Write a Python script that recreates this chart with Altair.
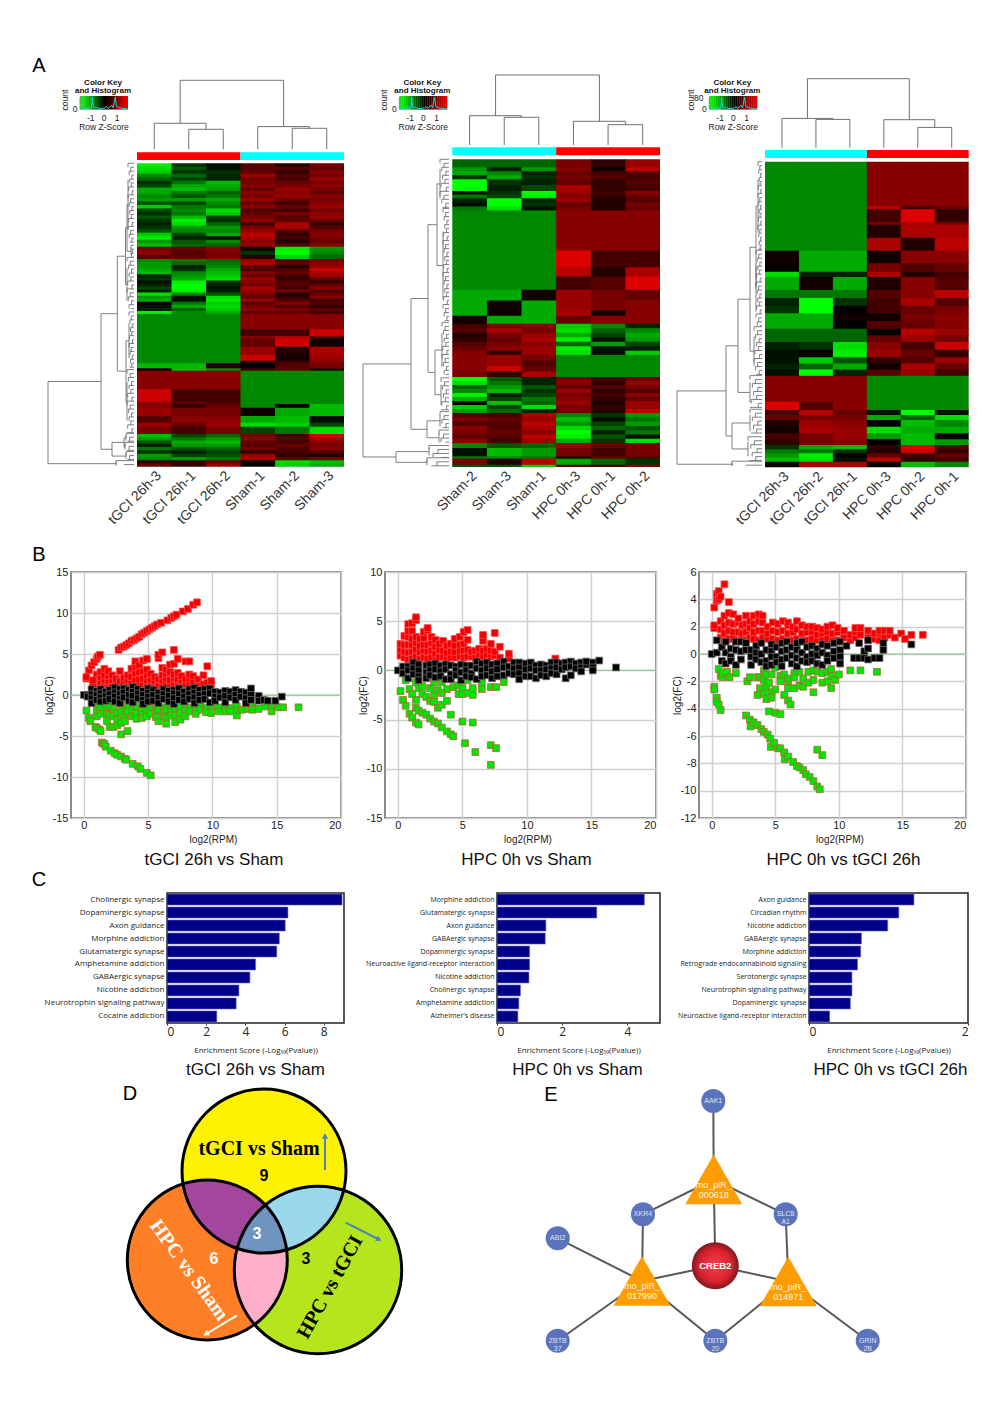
import numpy as np
import pandas as pd
import altair as alt

FONT = "Liberation Sans"

# ---------- A: heatmaps (z-score x10, blocks of equal-height rows) ----------
S = [-8, -8, -8, 8, 8, 8]
R = [8, 8, 8, -8, -8, -8]
heat1 = [
 (250, [[-14,-3,-1,5,2,7],[-13,-5,-1,5,5,6],[-12,-3,-3,6,3,8],[-8,-6,-2,9,5,7],[-6,-4,-2,7,4,9],[-3,-7,-11,7,6,7],
        [-4,-10,-10,8,7,8],[-10,-11,-9,6,9,7],[-10,-7,-6,8,8,6],[-8,-5,-7,7,9,8],[-9,-9,-10,9,6,7],[-5,-4,-8,6,4,8],
        [-12,-7,-7,8,6,9],[-4,-8,-13,5,4,7],[-3,-7,-12,6,7,8],[-5,-11,-4,7,5,9],[-3,-14,-3,8,6,6],[-2,-13,-6,4,10,3],
        [-3,-9,-9,7,10,5],[-5,-8,-8,9,5,7],[-12,-4,-10,11,3,8],[-14,-2,-1,10,4,7],[-9,-5,-8,8,2,6],[-11,-6,-6,9,5,8]]),
 (37, [[7,6,8,1,-14,-9],[8,5,7,-3,-15,-8],[5,6,7,2,-12,-6]]),
 (165, [[-8,-7,-6,9,5,7],[-9,-6,-7,10,6,8],[-9,-2,-8,6,2,9],[-10,-3,-10,4,5,12],[-11,-8,-11,8,6,10],[-2,-9,-12,6,4,9],
        [-3,-10,-13,9,3,6],[-1,-14,-3,8,5,3],[-2,-15,-2,7,5,6],[-4,-15,-1,10,4,8],[-2,-14,-2,9,7,5],[-13,-8,-5,7,2,6],
        [-9,-1,-13,6,3,8],[-10,-1,-14,9,5,4],[0,-7,-12,5,8,5],[-1,-10,-13,7,5,3],[-2,-6,-12,8,7,6],[-14,-8,-10,6,6,4]]),
 (46, [S]), (20, [[-8,-8,-8,4,4,12]]), (7, [[-8,-8,-8,8,10,6]]), (25, [[-8,-8,-8,6,12,1]]), (25, [[-8,-8,-8,9,2,10]]),
 (17, [[-8,-8,-8,12,1,9]]), (8, [[-8,-8,-8,3,4,8]]), (15, [[-11,-11,2,0,5,7]]), (7, [[1,-11,-8,4,6,2]]),
 (56, [R]), (37, [[12,4,4,-8,-8,-8]]), (7, [[8,6,5,-8,-8,-8]]), (11, [[8,3,6,-8,0,-11]]), (25, [[9,7,7,1,-10,-11]]),
 (20, [[5,8,8,-10,-11,-1]]), (12, [[9,6,9,-13,-12,-4]]), (22, [[7,4,7,-4,-7,-13]]),
 (98, [[-11,-4,-6,7,4,12],[-9,-7,-9,8,5,10],[-5,-10,-11,6,4,8],[-2,-9,-9,5,6,7],[-7,-5,-6,7,5,8],[-3,-2,-4,3,4,5],
       [-9,-4,-5,9,3,2],[-8,-9,-7,10,5,7],[3,3,6,1,-13,-11],[6,3,9,0,-12,-10]]),
]
heat2 = [
 (24, [[-6,-6,-6,7,3,9]]),
 (36, [[-9,-2,-9,8,1,11],[-10,-8,-2,6,4,5],[-3,-10,-3,7,5,4]]),
 (35, [[-15,-3,-2,6,3,5],[-15,-2,-4,10,3,4]]),
 (22, [[-1,-3,-15,9,4,8],[-7,-4,-14,8,3,6]]),
 (25, [[-2,-15,-2,9,2,5],[-1,-15,-3,6,2,7]]),
 (12, [[-7,-13,-1,7,2,6]]),
 (120, [S]), (50, [[-8,-8,-8,13,4,4]]), (28, [[-8,-8,-8,11,2,10]]), (40, [[-8,-8,-8,4,5,13]]),
 (32, [[-10,-10,1,9,7,6]]), (30, [[-10,1,-10,9,7,8]]), (16, [[-10,1,-10,10,1,8]]), (24, [[1,-10,-10,6,8,8]]),
 (94, [[4,7,8,-12,-8,-2],[5,10,7,-13,-6,-8],[2,7,9,-10,-4,-10],[3,6,10,-14,-1,-9],[5,7,8,-6,-9,-4],[6,8,9,-14,-1,-2],[8,3,9,-13,-1,-12]]),
 (66, [[8,9,7,-8,-8,-8],[8,9,5,-8,-8,-8],[8,12,6,-8,-8,-8],[7,3,10,-8,-8,-8]]),
 (108, [[-15,-5,-2,7,4,6],[-13,-7,-2,8,2,9],[-6,-9,-5,6,5,7],[-8,-11,-3,9,3,5],[-14,-2,-4,7,4,8],[-10,-4,-7,8,3,6],[0,-11,-6,9,2,9],[-12,-4,-13,7,3,9],[-9,-6,-2,6,2,11]]),
 (90, [[5,4,10,-8,-3,-9],[7,6,9,-11,-1,-7],[5,5,11,-9,-4,-9],[8,5,10,-13,-6,-5],[7,6,8,-15,-2,-7],[6,5,11,-14,-5,-1],[8,4,9,-10,-3,-13]]),
 (15, [[-8,-5,-6,9,6,7]]), (25, [[-1,-11,-9,7,4,7]]), (7, [[-7,-8,-7,2,6,5]]), (18, [[7,2,11,-10,-6,-3]]), (7, [[-5,-5,-12,6,4,8]]),
]
heat3 = [
 (133, [S]), (10, [[-8,-8,-8,11,4,6]]), (38, [[-8,-8,-8,4,13,3]]), (8, [[-8,-8,-8,7,10,7]]), (39, [[-8,-8,-8,2,10,10]]),
 (39, [[-8,-8,-8,10,2,11]]), (38, [[1,-10,-10,1,8,8]]), (25, [[0,-10,-10,7,5,6]]), (16, [[-13,-2,-2,10,2,4]]),
 (39, [[-10,1,-10,2,8,5]]), (24, [[-7,-7,-7,5,8,11]]), (46, [[-2,-15,-3,4,10,5],[-3,-15,0,4,6,7]]),
 (46, [[-10,-10,1,1,7,8],[-10,-10,0,5,6,8]]), (40, [[-6,-6,-6,0,11,9],[-6,-6,-6,6,9,7]]),
 (46, [[-2,-3,-13,8,4,12],[-1,0,-14,9,6,3]]), (55, [[-1,-12,-5,3,5,9],[-2,-6,-10,1,10,6],[-1,-15,-2,5,9,4]]),
 (78, [R]), (25, [[13,5,8,-8,-8,-8]]), (30, [[4,11,6,-1,-15,-1],[6,7,7,-10,-6,-13]]),
 (40, [[2,9,8,0,-11,-8],[1,10,9,-13,-10,-10]]), (35, [[4,7,9,-9,-11,0],[3,7,8,0,-11,-9]]),
 (50, [[-3,-10,-11,3,13,5],[-7,-7,-3,2,12,3],[-9,-14,0,6,4,6],[-11,-13,-1,11,3,4]]),
 (17, [[1,10,10,0,-11,-8]]),
]
labels1 = ["tGCI 26h-3", "tGCI 26h-1", "tGCI 26h-2", "Sham-1", "Sham-2", "Sham-3"]
labels2 = ["Sham-2", "Sham-3", "Sham-1", "HPC 0h-3", "HPC 0h-1", "HPC 0h-2"]
labels3 = ["tGCI 26h-3", "tGCI 26h-2", "tGCI 26h-1", "HPC 0h-3", "HPC 0h-2", "HPC 0h-1"]

top_tree1 = (69, (26, 0, (20, 1, 2)), (22.7, 3, (21, 4, 5)))
top_tree2 = (70, (29.3, 0, (27.7, 1, 2)), (23.7, 3, (20.3, 4, 5)))
top_tree3 = (69, (29.3, 0, (28.3, 1, 2)), (28, 3, (20.3, 4, 5)))

def F(r0, r1, d):
    return ("F", r0, r1, d)

left_tree1 = (86, (33, (16.7, (8.5, (7, F(0, 27, 6), F(27, 31, 3)), F(31, 49, 7)), (8, F(49, 68, 5), F(68, 89, 7))),
                   (22, (10, F(89, 92, 8), F(92, 95, 9)), F(95, 98, 8))), F(98, 100, 18))
left_tree2 = (86, (38, (21, (12, F(0, 16, 9), F(16, 53, 6)), (14, F(53, 71, 7), F(71, 82, 8))),
                   (22, F(82, 88, 9), F(88, 93, 10))), (53, F(93, 97, 20), F(97, 100, 22)))
left_tree3 = (85, (36, (24, (12, (6, F(0, 29, 4), F(29, 54, 6)), F(54, 70, 8)), F(70, 81, 12)),
                   (30, F(81, 90, 12), F(90, 98, 14))), F(98, 100, 30))

hist_z = [-1.8, -1.3, -1.2, -1.1, -0.95, -0.88, -0.8, -0.6, -0.4, -0.1, 0.1, 0.2, 0.3, 0.6, 0.7, 0.85, 0.95, 1.2, 1.6, 1.8]
hist_c = [0, 0, 0.2, 0.05, 0.1, 1, 0.1, 0.15, 0.05, 0.05, 0.1, 0.2, 0.05, 0.3, 0.1, 1, 0.2, 0.1, 0.03, 0]

# ---------- B: scatter columns (x, [y...]) ----------
b1_red = [(2.7,[5.5]),(2.9,[5.8]),(3.1,[5.9]),(3.3,[6.1]),(3.5,[6.3]),(3.7,[6.6]),(3.9,[6.7]),(4.1,[6.9]),(4.3,[7.1]),(4.5,[7.4]),
 (4.7,[7.6]),(4.9,[7.8]),(5.1,[8.0]),(5.3,[8.2]),(5.5,[8.4]),(5.7,[8.6]),(6,[8.8]),(6.5,[9.1]),(6.8,[9.4]),(7,[9.6]),(7.2,[9.8]),
 (7.7,[10.2]),(8.1,[10.5]),(8.5,[11]),(8.8,[11.3]),(0.2,[2.0,2.2]),(0.4,[3.0]),(0.6,[3.6]),(0.8,[4.0]),(1,[1.3,2,2.5,4.4]),(1.1,[4.7]),(1.25,[4.9]),
 (0.7,[1.2,1.8]),(1.3,[1.1,1.6,2.2,2.8]),(1.6,[1.2,1.8,2.4,3.2]),(1.9,[1.1,1.7,2.3,2.9]),(2.2,[1.2,1.8,2.4]),(2.5,[1.1,1.5,2.0]),
 (2.8,[1.2,1.7,2.9]),(3.1,[1.2,1.6,2.1]),(3.4,[1.1,1.8,2.4]),(3.7,[1.2,1.7,2.2,3.2]),(4,[1.2,1.8,2.6,3.4,4.1]),(4.3,[1.2,1.9,2.8,3.6]),
 (4.6,[1.3,2,2.9,4.2]),(4.9,[1.1,1.8,2.4,3.1,4.4]),(5.2,[1.2,1.9,2.6]),(5.5,[1.2,1.7,2.2]),(5.8,[1.1,1.9,4.5,4.9]),(6.1,[1.2,1.8,2.4,3.3,5.2]),
 (6.4,[1.3,2,2.6,3.1]),(6.7,[1.2,1.8,2.8,3.7]),(7,[1.2,2,2.5,3.8,5.5]),(7.3,[1.3,1.9,2.7,4.4]),(7.6,[1.2,1.8,2.3]),(7.9,[1.3,1.9,4.1]),
 (8.2,[1.4,2,2.5,4.1]),(8.5,[1.5,2.3]),(8.9,[1.4,1.9]),(9.3,[1.3,2.4]),(9.6,[1.5,3.5]),(9.9,[1.3,1.7])]
b1_green = [(0.2,[-1.9]),(0.4,[-2.8]),(0.5,[-3.2]),(0.9,[-3.9]),(1,[-1.1,-2.0,-2.6,-4]),(1.2,[-4.2]),(1.3,[-1.5,-2.3,-4.4]),
 (1.4,[-5.8]),(1.5,[-5.9]),(1.6,[-1.9,-6]),(1.7,[-6.3]),(2.1,[-6.8]),(2.4,[-7.1]),(2.6,[-7.3]),(2.9,[-7.5]),(3.2,[-7.8]),(3.3,[-7.9]),(3.8,[-8.4]),
 (4.2,[-8.7]),(4.4,[-9]),(4.9,[-9.5]),(5.2,[-9.8]),
 (1.8,[-1.5,-2.3,-3.2]),(2,[-1.3,-2.4,-3.9]),(2.3,[-1.7,-2.6,-3.9]),(2.6,[-2.2,-3.0,-3.7]),(2.9,[-1.1,-2,-3.4,-4.8]),(3.2,[-1.6,-2.5,-3.2]),
 (3.4,[-1.3,-2.0,-4.4]),(3.8,[-1.8,-2.6]),(4.1,[-1.3,-2.2,-2.9]),(4.5,[-1.6,-2.4,-2.8]),(4.9,[-1.2,-2,-2.6]),(5.2,[-1.7,-2.3]),(5.6,[-1.5,-2.1,-2.7]),
 (5.8,[-1.7,-3.2]),(6.2,[-1.5,-2.2,-2.6]),(6.4,[-1.8,-2.8,-3.5]),(6.8,[-1.4,-2,-2.5]),(7.1,[-1.7,-2.5,-3.3]),(7.5,[-1.5,-2.2,-3.0]),(7.9,[-1.3,-1.9,-2.6]),
 (8.3,[-1.6,-2.0]),(8.7,[-1.3,-1.9,-2.3]),(9.1,[-1.2,-1.8]),(9.5,[-1.6,-2.1]),(9.9,[-1.3,-2.2]),(10.5,[-1.5,-2]),(11,[-1.7,-2.0]),(11.4,[-1.6,-2.0]),
 (11.9,[-1.4,-1.9,-2.5]),(12.3,[-1.8]),(12.7,[-1.7]),(13.1,[-1.5,-1.8]),(13.6,[-1.7]),(14.1,[-1.4]),(14.6,[-1.4,-2.0]),(15.1,[-1.5]),(15.5,[-1.5]),(16.7,[-1.5])]
b1_black = [(0,[0]),(0.3,[0,-0.2]),(0.6,[0.7,0.1,-0.4,-1.0]),(1,[0.5,0,-0.6]),(1.3,[0.7,0.2,-0.3,-0.8]),(1.7,[0.4,-0.1,-0.7]),(2,[0.6,0.1,-0.5]),
 (2.4,[0.9,0.3,-0.2,-0.8]),(2.8,[0.7,0.1,-0.5,-1.0]),(3.1,[0.8,0.3,-0.3]),(3.5,[0.6,0,-0.7]),(3.8,[1.0,0.4,-0.1,-0.9]),(4.2,[0.7,0.2,-0.4]),
 (4.6,[0.5,0,-0.6,-1.1]),(5,[0.8,0.3,-0.2,-0.8]),(5.4,[0.6,0,-0.7]),(5.8,[0.3,-0.3,-1.0]),(6.2,[0.7,0.1,-0.5]),(6.6,[0.5,-0.1,-0.8]),(7,[0.6,0.2,-0.4,-1.1]),
 (7.4,[0.8,0.1,-0.6]),(7.8,[0.4,-0.2,-0.8]),(8.2,[0.7,0.1,-0.5]),(8.6,[0.9,0.3,-0.3,-1.0]),(9,[0.6,0,-0.6]),(9.4,[0.7,0.1,-0.5]),(9.8,[0.8,0.2,-0.9]),
 (10.2,[0.4,-0.2,-0.7]),(10.6,[0.3,-0.3]),(11,[0.5,-0.1,-0.9]),(11.4,[0.4,-0.3]),(11.8,[0.6,0,-0.6]),(12.2,[0.4,-0.2]),(12.6,[0.3,-0.4,-1.0]),(13,[0.8,0,-0.6]),
 (13.6,[-0.1,-0.7]),(14,[-0.6]),(14.3,[-0.7]),(14.9,[-0.7]),(15.4,[-0.2])]

b2_red = [(0.2,[1.5,2.1,2.7]),(0.5,[1.3,1.9,2.6,3.5]),(0.8,[1.1,1.8,2.6,3.4,4.0,4.7]),(1.1,[1.2,1.9,2.6,3.2,4.0,4.8]),(1.4,[1.4,2.1,2.8,3.4,5.1,5.4]),
 (1.7,[1.2,1.9,2.5,3.2]),(2,[1.3,2,2.6,3.3,3.9]),(2.3,[1.2,1.9,2.6,4.1,4.3]),(2.6,[1.3,2,2.8,3.4]),(2.9,[1.2,1.7,2.4,3.1]),(3.2,[1.3,2.1,2.7]),(3.5,[1.4,2,3]),
 (3.8,[1.2,1.8,2.5]),(4.1,[1.3,1.9,2.7]),(4.4,[1.3,1.9,2.5,3.2]),(4.8,[1.4,2,2.6,3.4]),(5.1,[1.3,2,2.7,3.9]),(5.4,[1.4,2.1,3.1,4.1]),(5.7,[1.4,1.9]),(6,[1.3,2]),
 (6.3,[1.6,2.2]),(6.6,[1.4,2.0,3.0,3.6]),(6.9,[1.6,2.2]),(7.2,[1.4,2.0,2.7]),(7.5,[1.5,1.9,3.8]),(7.9,[1.3,2.4]),(8.6,[1.2,1.7]),(12.2,[1.2])]
b2_green = [(0.2,[-2.1]),(0.4,[-3]),(0.6,[-1,-3.6]),(0.9,[-1.9,-4.4]),(1.1,[-2.4,-4.8]),(1.4,[-1.2,-3,-3.8,-5.3]),(1.6,[-1.8,-4.1,-5.5]),(1.9,[-1.6,-2.4,-4.3]),
 (2.2,[-2.7,-4.5]),(2.5,[-1.8,-3.1,-4.9]),(2.8,[-1.2,-2.5,-3.2,-5.2]),(3.1,[-2,-3.8,-5.4]),(3.4,[-1.2,-2.3,-3.5,-5.8]),(3.8,[-1.9,-3.1,-6.2]),(4.1,[-4.5,-6.5]),
 (4.3,[-1.7,-6.7]),(4.7,[-2.4,-1.5]),(5,[-2.4,-1.8,-5.2]),(5.2,[-7.4]),(5.4,[-1.0,-2.3]),(5.8,[-1.8,-2.5,-5.3]),(6,[-8.3]),(6.5,[-1.3,-1.9]),(7.2,[-1.7,-7.6,-9.6]),
 (7.6,[-1.7,-7.9]),(8.2,[-1.2])]
b2_black = [(0,[0]),(0.4,[0.4,-0.3]),(0.8,[0.4,0,-0.8]),(1.2,[0.8,0.2,-0.4]),(1.6,[0.6,0,-0.6,-1.0]),(2.2,[0.5,-0.2,-0.8]),(2.5,[0.6,0,-0.5]),(2.9,[0.7,0.1,-0.7]),
 (3.3,[0.5,-0.1,-0.6]),(3.7,[0.6,0.1,-0.9]),(4.1,[0.5,-0.4,-0.9]),(4.5,[0.4,0,-0.5]),(4.9,[0.6,-0.2,-1.0]),(5.3,[0.5,0,-0.6]),(5.7,[0.5,-0.3,-0.7]),(6.1,[0.9,0.2,-0.9]),
 (6.5,[0.7,0,-0.6]),(6.9,[0.8,0.2,-0.5]),(7.3,[0.6,-0.1,-0.8]),(7.7,[0.7,0.1,-0.6]),(8.2,[0.9,0.3,-0.5]),(8.6,[0.4,-0.3]),(9,[0.8,0.2,-0.4]),(9.4,[0.8,0.3,-0.3,-0.9]),
 (9.9,[0.7,0.1,-0.6]),(10.3,[0.8,0.2,-0.6]),(10.7,[0.5,0,-0.8]),(11.1,[0.6,0,-0.5]),(11.5,[0.5,0.1,-0.6]),(11.9,[0.8,0.2,-0.3]),(12.3,[0.8,0.3,-0.4]),(12.7,[0.7,0.1]),
 (13,[0.8,0.3,-0.8]),(13.4,[0.9,0.4,-0.5]),(13.8,[0.7,0.2]),(14.2,[0.8,0.3,-0.1]),(14.6,[0.6,0.9]),(15.1,[0.8,0.3,0]),(15.6,[1]),(16.9,[0.3])]

b3_red = [(0.2,[1.9,2.1,3.4]),(0.4,[3.9,4.4]),(0.55,[4.0,4.6]),(0.7,[1.2,1.8,2.4,4.2]),(1,[1.0,1.5,2.1,2.8,5.1]),(1.35,[1.1,1.7,2.3,3.0,3.8]),(1.7,[1.1,1.6,2.2,2.9]),
 (2.1,[1,1.6,2.3,2.6]),(2.4,[1.1,1.5,2.1]),(2.7,[1,1.6,2.2,2.8]),(3,[1.2,1.9,2.4]),(3.3,[1.1,1.6,2.2,2.8]),(3.7,[1,1.7,2.4,2.9]),(4,[1.2,1.7,2.3,2.8]),(4.4,[1.1,1.5,2.0]),
 (4.8,[1.1,1.7,2.3]),(5.2,[1,1.6,2.2]),(5.6,[1.1,1.7,2.4]),(6,[1,1.5,2.1,2.3]),(6.4,[1,1.6,2.0]),(6.7,[1.1,1.8,2.4]),(7.1,[1,1.5,2.1]),(7.5,[1,1.6,2.0]),(7.9,[1.1,1.6,2.0]),
 (8.3,[1,1.4,1.9]),(8.7,[1,1.5,1.8]),(9.1,[1.1,1.6,2.0]),(9.5,[1,1.5,2.1]),(9.9,[1,1.6,1.9]),(10.4,[1.2,1.7]),(10.9,[1,1.4]),(11.3,[1.2,1.6,1.9]),(11.7,[1.4,1.9]),(12.3,[1.2,1.7]),
 (12.8,[1.1,1.5]),(13.2,[1,1.5,1.7]),(13.6,[1.2,1.7]),(14,[1.4,1.7]),(14.4,[1.2]),(14.9,[1.5]),(15.2,[1.1]),(15.7,[1.4]),(16.6,[1.4])]
b3_green = [(0.2,[-2.4,-2.6]),(0.4,[-3.2,-3.5]),(0.55,[-1.1,-3.7]),(0.7,[-1.6,-4.1]),(0.85,[-1.7,-1.4]),(1.2,[-1.3]),(1.4,[-1.7]),(1.9,[-1.4]),(2.8,[-2]),(3,[-1.7]),
 (3.6,[-3,-1.7]),(3.8,[-2.5,-1.7]),(4.1,[-2.9,-1.9,-1.2]),(4.3,[-2.4,-3.3,-1.5]),(4.5,[-2.1,-4.2]),(4.7,[-1.5,-2.8,-3.2]),(5,[-1.0,-2.6,-4.3]),(5.4,[-1.6,-2,-4.4]),
 (5.7,[-1.5,-3]),(6,[-2,-1.8,-2.5,-3.4]),(6.2,[-3.7]),(6.5,[-1.4,-2.5,-1.7]),(6.9,[-1.3,-2.3]),(7.2,[-1.8,-2.4]),(7.6,[-1.3,-2.1]),(8,[-1.2,-2.8,-1.9]),(8.3,[-1.3]),
 (8.7,[-1.4,-2.1]),(9.1,[-1.3,-2.0]),(9.4,[-1.1,-1.6,-2.5]),(9.7,[-1.9]),(10,[-1.5]),(10.9,[-1.2]),(11.7,[-1.2]),(13,[-1.3]),
 (2.7,[-4.5]),(3,[-4.8]),(3.05,[-5.3]),(3.3,[-5]),(3.6,[-5.2]),(3.9,[-5.5]),(4.1,[-5.7]),(4.4,[-5.9]),(4.6,[-6.2]),(4.65,[-6.8]),(4.9,[-6.5]),(5.2,[-6.9]),(5.4,[-6.9]),
 (5.7,[-7.2]),(5.75,[-7.7]),(6,[-7.5]),(6.4,[-7.9]),(6.7,[-8.2]),(6.9,[-8.3]),(7.2,[-8.5]),(7.4,[-8.8]),(7.7,[-9]),(8,[-9.3]),(8.3,[-9.7,-7]),(8.5,[-9.9]),(8.7,[-7.4])]
b3_black = [(0,[0]),(0.4,[1,0.1]),(0.8,[0.5,-0.5]),(1.1,[0.9,0.1,-0.7]),(1.5,[0.4,-0.2,-0.5]),(1.9,[0.9,0.3,-0.8]),(2.3,[0.9,0.2,-0.4]),(2.7,[0.8,0.3]),(3.1,[0.3,-0.2,-0.8]),
 (3.5,[0.6,0.1,-0.4]),(3.9,[0.8,0,-0.6]),(4.3,[0.3,-0.5,-0.9]),(4.7,[0.7,0.2,-0.2,-0.8]),(5.1,[0.5,-0.2,-0.6]),(5.5,[0.8,0.2,-0.4,-0.9]),(5.9,[0.9,0.3,-0.3]),(6.3,[0.5,-0.1,-0.7]),
 (6.7,[0.8,0.3,-0.3,-0.9]),(7.1,[0.9,0.1,-0.5]),(7.5,[0.5,-0.2,-0.6]),(7.9,[0.6,0,-0.5]),(8.3,[0.4,-0.1,-0.7]),(8.7,[0.7,0.1,-0.8]),(9.1,[0.6,-0.1,-0.5]),(9.6,[0.8,0.2,-0.3]),
 (10.1,[0.9,0.3,-0.2,-0.7]),(10.6,[0.6]),(11.2,[-0.3]),(11.6,[0.8,-0.3]),(12,[0.2,-0.3]),(12.3,[1,0.4,-0.4]),(12.8,[-0.3]),(13.2,[-0.3]),(13.5,[0.8,0.3]),(15.7,[0.7])]

# ---------- C: enrichment bars ----------
c1_names = ["Cholinergic synapse","Dopaminergic synapse","Axon guidance","Morphine addiction","Glutamatergic synapse","Amphetamine addiction","GABAergic synapse","Nicotine addiction","Neurotrophin signaling pathway","Cocaine addiction"]
c1_vals = [8.93,6.17,6.03,5.73,5.6,4.52,4.23,3.67,3.53,2.54]
c2_names = ["Morphine addiction","Glutamatergic synapse","Axon guidance","GABAergic synapse","Dopaminergic synapse","Neuroactive ligand-receptor interaction","Nicotine addiction","Cholinergic synapse","Amphetamine addiction","Alzheimer's disease"]
c2_vals = [4.52,3.06,1.5,1.48,1.0,1.0,0.98,0.72,0.67,0.64]
c3_names = ["Axon guidance","Circadian rhythm","Nicotine addiction","GABAergic synapse","Morphine addiction","Retrograde endocannabinoid signaling","Serotonergic synapse","Neurotrophin signaling pathway","Dopaminergic synapse","Neuroactive ligand-receptor interaction"]
c3_vals = [1.32,1.13,0.99,0.66,0.65,0.61,0.54,0.54,0.52,0.26]

# ---------- D: Venn ----------
venn_c = {"Y": (264, 1171, 82), "O": (207.3, 1260, 80), "G": (318, 1270, 83.7)}
venn_fill = {"Y": "#fff200", "O": "#ff7f27", "G": "#b5e61d"}

# ---------- E: network ----------
genes = {"AAK1": (713.3,1101), "XKR4": (643,1214.3), "SLC8\nA1": (785.7,1214.3), "ABI2": (557.7,1238.3),
         "ZBTB\n37": (557.7,1340.7), "ZBTB\n20": (715.3,1340.7), "GRIN\n2B": (867.7,1340.7)}
pirs = {"mo_piR_\n000618": (713.7,1179.5), "mo_piR_\n017990": (642,1281), "mo_piR_\n014971": (788.3,1281.5)}
hub = {"CREB2": (715.3,1265.7)}
edges = [("AAK1","mo_piR_\n000618"),("XKR4","mo_piR_\n000618"),("SLC8\nA1","mo_piR_\n000618"),("CREB2","mo_piR_\n000618"),
         ("XKR4","mo_piR_\n017990"),("ABI2","mo_piR_\n017990"),("CREB2","mo_piR_\n017990"),("ZBTB\n37","mo_piR_\n017990"),("ZBTB\n20","mo_piR_\n017990"),
         ("SLC8\nA1","mo_piR_\n014971"),("CREB2","mo_piR_\n014971"),("ZBTB\n20","mo_piR_\n014971"),("GRIN\n2B","mo_piR_\n014971")]

# ---------- helpers ----------
ROW_A_TOP, ROW_A_BOT = 8, 563
FAN = [1.0, 0.55, 0.8, 0.35, 0.7, 0.45, 0.9, 0.3]

def walk(node, segs):
    if isinstance(node, int):
        return node + 0.5, 0.0
    if node[0] == "F":
        _, r0, r1, d = node
        rows = np.arange(r0, r1 + 0.01, 1.3)
        segs.append((d, r0 + (r1 - r0) * 0.2, d, r0 + (r1 - r0) * 0.8))
        for i, r in enumerate(rows):
            h = d * FAN[i % len(FAN)]
            segs.append((h, r, 0, r))
            if i + 1 < len(rows):
                segs.append((h, r, h, rows[i + 1]))
        return (r0 + r1) / 2, d
    h, a, b = node
    pa, ha = walk(a, segs)
    pb, hb = walk(b, segs)
    segs.append((h, pa, h, pb))
    segs.append((h, pa, ha, pa))
    segs.append((h, pb, hb, pb))
    return (pa + pb) / 2, h

def heat_panel(px0, px1, hx0, hx1, hy0, hy1, bar0, bar1, top_leaf, left_leaf, blocks, top_tree, left_tree,
               labels, bar_colors, key_zero, count_x, has80):
    ux = lambda p: (p - hx0) / (hx1 - hx0) * 6
    uy = lambda p: (p - hy0) / (hy1 - hy0) * 100
    xs = alt.Scale(domain=[ux(px0), ux(px1)], nice=False, zero=False)
    ys = alt.Scale(domain=[uy(ROW_A_BOT), uy(ROW_A_TOP)], nice=False, zero=False)
    X = lambda f: alt.X(f"{f}:Q", scale=xs, axis=None)
    Y = lambda f: alt.Y(f"{f}:Q", scale=ys, axis=None)
    col = alt.Color("z:Q", scale=alt.Scale(domain=[-15, 0, 15], range=["#00ff00", "#000000", "#ff0000"], clamp=True, interpolate="rgb"), legend=None)
    total = sum(b[0] for b in blocks)
    cells, y = [], 0.0
    for h, rows in blocks:
        rh = h / total * 100 / len(rows)
        for r in rows:
            for c, z in enumerate(r):
                # a sliver of overlap hides anti-aliasing seams between cells
                cells.append(dict(x=c, x2=min(c + 1.02, 6), y=y, y2=min(y + rh + 0.25, 100), z=z))
            y += rh
    layers = [alt.Chart(pd.DataFrame(cells)).mark_rect(strokeWidth=0).encode(x=X("x"), x2="x2:Q", y=Y("y"), y2="y2:Q", color=col)]
    bars = pd.DataFrame([dict(x=0, x2=3, y=uy(bar0), y2=uy(bar1), c=bar_colors[0]), dict(x=3, x2=6, y=uy(bar0), y2=uy(bar1), c=bar_colors[1])])
    layers.append(alt.Chart(bars).mark_rect().encode(x=X("x"), x2="x2:Q", y=Y("y"), y2="y2:Q", color=alt.Color("c:N", scale=None)))
    segs = []
    walk(top_tree, segs)
    top = pd.DataFrame([dict(x=a2, x2=b2, y=uy(top_leaf - a1), y2=uy(top_leaf - b1)) for a1, a2, b1, b2 in segs])
    layers.append(alt.Chart(top).mark_rule(color="#707070", strokeWidth=1).encode(x=X("x"), x2="x2:Q", y=Y("y"), y2="y2:Q"))
    segs = []
    walk(left_tree, segs)
    left = pd.DataFrame([dict(x=ux(left_leaf - a1), x2=ux(left_leaf - b1), y=a2, y2=b2) for a1, a2, b1, b2 in segs])
    layers.append(alt.Chart(left).mark_rule(color="#707070", strokeWidth=0.9).encode(x=X("x"), x2="x2:Q", y=Y("y"), y2="y2:Q"))
    kz = np.arange(-18, 18, 1.5)
    ku = 13.2
    key = pd.DataFrame([dict(x=ux(key_zero + z / 10 * ku), x2=ux(key_zero + (z + 1.7) / 10 * ku), y=uy(96), y2=uy(109.5), z=z * 0.85) for z in kz])
    layers.append(alt.Chart(key).mark_rect(strokeWidth=0).encode(x=X("x"), x2="x2:Q", y=Y("y"), y2="y2:Q", color=col))
    hist = pd.DataFrame(dict(x=[ux(key_zero + z * ku) for z in hist_z], y=[uy(109 - c * 12) for c in hist_c]))
    layers.append(alt.Chart(hist).mark_line(color="#19d6d6", strokeWidth=1).encode(x=X("x"), y=Y("y")))
    # count axis of the key's histogram
    kx = key_zero - 24
    ka = [dict(x=ux(kx), x2=ux(kx), y=uy(97), y2=uy(109))] + [dict(x=ux(kx), x2=ux(kx + 2.5), y=uy(t), y2=uy(t)) for t in (97, 100, 103, 106, 109)]
    layers.append(alt.Chart(pd.DataFrame(ka)).mark_rule(color="#777777", strokeWidth=0.8).encode(x=X("x"), x2="x2:Q", y=Y("y"), y2="y2:Q"))

    def txt(rows, **kw):
        d = pd.DataFrame([dict(x=ux(a), y=uy(b), t=t) for a, b, t in rows])
        return alt.Chart(d).mark_text(font=FONT, **kw).encode(x=X("x"), y=Y("y"), text="t:N")
    layers.append(txt([(key_zero - 1, 83, "Color Key"), (key_zero - 1, 91, "and Histogram")], fontSize=8, fontWeight="bold", color="#111"))
    layers.append(txt([(key_zero, 127, "Row Z-Score")], fontSize=8.5, color="#222"))
    layers.append(txt([(key_zero - ku, 117.5, "-1"), (key_zero, 117.5, "0"), (key_zero + ku, 117.5, "1")], fontSize=8.5, color="#222"))
    layers.append(txt([(count_x, 100, "count")], fontSize=8.5, angle=270, color="#222"))
    ticks = [(key_zero - 29, 109, "0")] + ([(key_zero - 34.5, 98, "80")] if has80 else [])
    layers.append(txt(ticks, fontSize=8.5, color="#222"))
    lab = pd.DataFrame([dict(x=i + 0.5 + ux(hx0 + 5), y=uy(hy1 + 7), t=t) for i, t in enumerate(labels)])
    layers.append(alt.Chart(lab).mark_text(font=FONT, fontSize=14, angle=315, align="right", baseline="middle", color="#333").encode(x=X("x"), y=Y("y"), text="t:N"))
    return alt.layer(*layers).properties(width=px1 - px0, height=ROW_A_BOT - ROW_A_TOP)

def expand(cols):
    return pd.DataFrame([dict(x=x, y=y) for x, ys in cols for y in ys])

def scatter(red, green, black, ydom, yvals, w, title, dx):
    xs = alt.Scale(domain=[-1, 20], nice=False, zero=False)
    ys = alt.Scale(domain=ydom, nice=False, zero=False)
    ax = alt.Axis(values=[0, 5, 10, 15, 20], labelExpr="datum.value + ''", title="log2(RPM)", grid=True, gridColor="#cfcfcf", gridWidth=1.5, domain=False,
                  ticks=False, labelFont=FONT, labelFontSize=11, labelColor="#222", titleFont=FONT, titleFontSize=10, titleFontWeight="normal",
                  titleColor="#222", labelPadding=1, titlePadding=4, titleX=w / 2 + 7)
    ay = alt.Axis(values=yvals, labelExpr="datum.value + ''", title="log2(FC)", grid=True, gridColor="#cfcfcf", gridWidth=1.5, domain=False,
                  ticks=False, labelFont=FONT, labelFontSize=11, labelColor="#222", titleFont=FONT, titleFontSize=10, titleFontWeight="normal",
                  titleColor="#222", labelPadding=3, titlePadding=-2)
    def pts(cols, fill, stroke):
        return alt.Chart(expand(cols)).mark_square(size=46, color=fill, stroke=stroke, strokeWidth=0.8, opacity=1).encode(
            x=alt.X("x:Q", scale=xs, axis=ax), y=alt.Y("y:Q", scale=ys, axis=ay))
    zero = alt.Chart(pd.DataFrame({"y": [0]})).mark_rule(color="#7fc97f", strokeWidth=1).encode(y=alt.Y("y:Q", scale=ys, axis=ay))
    return alt.layer(zero, pts(red, "#f00000", "#ff4a4a"), pts(green, "#00e600", "#a86a30"), pts(black, "#000000", "#6a6a6a")).properties(
        width=w, height=246, view=alt.ViewConfig(stroke="#666666", strokeWidth=1.5),
        title=alt.TitleParams(title, orient="bottom", font=FONT, fontSize=17, fontWeight="normal", color="#111", offset=8, dx=dx))

def bars(names, vals, dom, ticks, w, title, dx=0, label_size=8):
    d = pd.DataFrame(dict(n=names, v=vals))
    return alt.Chart(d).mark_bar(size=11, color="#00008b", stroke="#6a6ab8", strokeWidth=0.6).encode(
        y=alt.Y("n:N", sort=names, scale=alt.Scale(paddingInner=0.15, paddingOuter=0.08),
                axis=alt.Axis(title=None, ticks=False, domain=False, labelFont="Open Sans", labelFontSize=label_size, labelColor="#222", labelLimit=200, labelPadding=3)),
        x=alt.X("v:Q", scale=alt.Scale(domain=dom, nice=False, zero=False),
                axis=alt.Axis(values=ticks, format="d", grid=False, domain=False, tickSize=2, tickColor="#333",
                              labelFont="Open Sans", labelFontSize=12, labelColor="#222", labelPadding=1,
                              title="Enrichment Score (-Log\u2081\u2080(Pvalue))", titleFont="Open Sans", titleFontSize=8,
                              titleFontWeight="normal", titleColor="#222", titlePadding=9))
    ).properties(width=w, height=130, view=alt.ViewConfig(stroke="#222222", strokeWidth=1.5),
                 title=alt.TitleParams(title, orient="bottom", font=FONT, fontSize=17, fontWeight="normal", color="#111", offset=8, dx=dx))

def spacer(w, h, letters=()):
    c = alt.Chart(pd.DataFrame({"a": [0]}))
    base = c.mark_rule(opacity=0).encode(x=alt.value(0))
    ls = [c.mark_text(text=t, font=FONT, fontSize=20, align="center", baseline="middle", color="#000").encode(x=alt.value(lx), y=alt.value(ly))
          for t, lx, ly in letters]
    return alt.layer(base, *ls).properties(width=w, height=h)

def venn_panel():
    xs = alt.Scale(domain=[100, 420], nice=False, zero=False)
    ys = alt.Scale(domain=[1365, 1085], nice=False, zero=False)
    X = alt.X("x:Q", scale=xs, axis=None)
    Y = alt.Y("y:Q", scale=ys, axis=None)
    circ = pd.DataFrame([dict(x=v[0], y=v[1], s=(2 * v[2]) ** 2, c=venn_fill[k]) for k, v in venn_c.items()])
    layers = [alt.Chart(circ).mark_point(shape="circle", filled=True, opacity=1).encode(x=X, y=Y, size=alt.Size("s:Q", scale=None), color=alt.Color("c:N", scale=None))]
    def lens(keys, color):
        xx = np.arange(100, 420, 0.5)
        lo = np.full_like(xx, -1e9)
        hi = np.full_like(xx, 1e9)
        ok = np.ones_like(xx, dtype=bool)
        for k in keys:
            cx, cy, r = venn_c[k]
            inside = np.abs(xx - cx) < r
            ok &= inside
            dy = np.sqrt(np.maximum(r * r - (xx - cx) ** 2, 0))
            lo = np.maximum(lo, cy - dy)
            hi = np.minimum(hi, cy + dy)
        ok &= hi > lo
        d = pd.DataFrame(dict(x=xx[ok], y=lo[ok], y2=hi[ok]))
        return alt.Chart(d).mark_area(color=color, opacity=1).encode(x=X, y=Y, y2="y2:Q")
    layers += [lens("YO", "#a3479e"), lens("YG", "#99d9ea"), lens("OG", "#ffaec9"), lens("YOG", "#6f94c0")]
    layers.append(alt.Chart(circ).mark_point(shape="circle", filled=False, stroke="#000", strokeWidth=3, opacity=1).encode(x=X, y=Y, size=alt.Size("s:Q", scale=None)))
    def t(x, y, s, color, size, angle=0, font="Liberation Serif", weight="bold"):
        d = pd.DataFrame(dict(x=[x], y=[y], t=[s]))
        return alt.Chart(d).mark_text(font=font, fontSize=size, fontWeight=weight, color=color, angle=angle).encode(x=X, y=Y, text="t:N")
    layers += [t(259, 1149, "tGCI vs Sham", "#000", 20), t(189, 1270, "HPC vs Sham", "#fff", 20, 54), t(330, 1287, "HPC vs tGCI", "#000", 20, 299),
               t(264, 1176, "9", "#000", 16, font=FONT), t(214, 1259, "6", "#fff", 16, font=FONT), t(306, 1259, "3", "#000", 16, font=FONT), t(257, 1234, "3", "#fff", 16, font=FONT)]
    def arrow(x0, y0, x1, y1, color, w):
        d = pd.DataFrame(dict(x=[x0], y=[y0], x2=[x1], y2=[y1]))
        a = float(np.degrees(np.arctan2(x1 - x0, -(y1 - y0))) % 360)
        head = pd.DataFrame(dict(x=[x1], y=[y1]))
        return [alt.Chart(d).mark_rule(color=color, strokeWidth=w).encode(x=X, x2="x2:Q", y=Y, y2="y2:Q"),
                alt.Chart(head).mark_point(shape="triangle-up", filled=True, size=40, color=color, angle=a, opacity=1).encode(x=X, y=Y)]
    layers += arrow(325, 1170, 325, 1136, "#4f81bd", 2) + arrow(345.7, 1222.7, 379, 1239.5, "#4f81bd", 2) + arrow(236.7, 1315.7, 206, 1334, "#fff", 2)
    layers.append(alt.Chart(pd.DataFrame(dict(x=[130], y=[1094], t=["D"]))).mark_text(font=FONT, fontSize=20, color="#000").encode(x=X, y=Y, text="t:N"))
    return alt.layer(*layers).properties(width=320, height=280)

def net_panel():
    xs = alt.Scale(domain=[530, 900], nice=False, zero=False)
    ys = alt.Scale(domain=[1365, 1085], nice=False, zero=False)
    X = alt.X("x:Q", scale=xs, axis=None)
    Y = alt.Y("y:Q", scale=ys, axis=None)
    pos = {**genes, **pirs, **hub}
    ed = pd.DataFrame([dict(x=pos[a][0], y=pos[a][1], x2=pos[b][0], y2=pos[b][1]) for a, b in edges])
    df = lambda m: pd.DataFrame([dict(x=v[0], y=v[1], t=k) for k, v in m.items()])
    grad = alt.RadialGradient(gradient="radial", stops=[alt.GradientStop(offset=0, color="#f9424c"), alt.GradientStop(offset=0.7, color="#d9202e"), alt.GradientStop(offset=1, color="#7d1a1e")])
    layers = [
        alt.Chart(ed).mark_rule(color="#585858", strokeWidth=2).encode(x=X, x2="x2:Q", y=Y, y2="y2:Q"),
        alt.Chart(df(genes)).mark_point(shape="circle", filled=True, size=576, color="#5b73bb", opacity=1).encode(x=X, y=Y),
        alt.Chart(df(pirs)).mark_point(shape="triangle-up", filled=True, size=3249, color="#ff9c00", opacity=1).encode(x=X, y=Y),
        alt.Chart(df(hub)).mark_point(shape="circle", filled=True, size=2209, fill=grad, opacity=1).encode(x=X, y=Y),
        alt.Chart(df(genes)).mark_text(font=FONT, fontSize=7, color="#dfe4f4", lineBreak="\n", lineHeight=8).encode(x=X, y=Y, text="t:N"),
        alt.Chart(df(pirs)).mark_text(font=FONT, fontSize=9, color="#fff6e0", lineBreak="\n", lineHeight=10, dy=5).encode(x=X, y=Y, text="t:N"),
        alt.Chart(df(hub)).mark_text(font=FONT, fontSize=9.5, fontWeight="bold", color="#fff").encode(x=X, y=Y, text="t:N"),
        alt.Chart(pd.DataFrame(dict(x=[551], y=[1095], t=["E"]))).mark_text(font=FONT, fontSize=20, color="#000").encode(x=X, y=Y, text="t:N"),
    ]
    return alt.layer(*layers).properties(width=370, height=280)

# ---------- panels ----------
a1 = heat_panel(40, 355, 137, 344, 163.3, 466.7, 152.3, 160, 149.3, 134, heat1, top_tree1, left_tree1, labels1, ("#ff0000", "#00ffff"), 104, 65, False)
a2 = heat_panel(356, 670, 452.3, 660, 159.3, 467, 147.3, 155.3, 145, 449, heat2, top_tree2, left_tree2, labels2, ("#00ffff", "#ff0000"), 423.3, 384, False)
a3 = heat_panel(671, 985, 765, 968.7, 161.7, 467.3, 150, 158, 147.7, 762, heat3, top_tree3, left_tree3, labels3, ("#00ffff", "#ff0000"), 733.3, 690.7, True)

b1 = scatter(b1_red, b1_green, b1_black, [-15, 15], [-15, -10, -5, 0, 5, 10, 15], 270, "tGCI 26h vs Sham", 8)
b2 = scatter(b2_red, b2_green, b2_black, [-15, 10], [-15, -10, -5, 0, 5, 10], 271, "HPC 0h vs Sham", 6)
b3 = scatter(b3_red, b3_green, b3_black, [-12, 6], [-12, -10, -8, -6, -4, -2, 0, 2, 4, 6], 267, "HPC 0h vs tGCI 26h", 11)

c1 = bars(c1_names, c1_vals, [0, 9.03], [0, 2, 4, 6, 8], 177, "tGCI 26h vs Sham")
c2 = bars(c2_names, c2_vals, [0, 5], [0, 2, 4], 163, "HPC 0h vs Sham", -1, 7)
c3 = bars(c3_names, c3_vals, [0, 2], [0, 1, 2], 159, "HPC 0h vs tGCI 26h", 2, 7)

def row(*cells):
    return alt.hconcat(*cells, spacing=0, bounds="flush")

rows = [
    row(spacer(32, 555, [("A", 31, 58), ("B", 31, 547)]), a1, spacer(1, 1), a2, spacer(1, 1), a3),
    row(spacer(63, 320, [("C", 31, 308)]), b1, spacer(44, 1), b2, spacer(43, 1), b3),
    row(spacer(159, 190), c1, spacer(153, 1), c2, spacer(149, 1), c3),
    row(spacer(92, 280), venn_panel(), spacer(110, 1), net_panel()),
]

chart = alt.vconcat(*rows, spacing=0).properties(padding=0, background="white").configure_view(stroke=None)

chart.save("out.html", embed_options={"renderer": "svg", "actions": False})
